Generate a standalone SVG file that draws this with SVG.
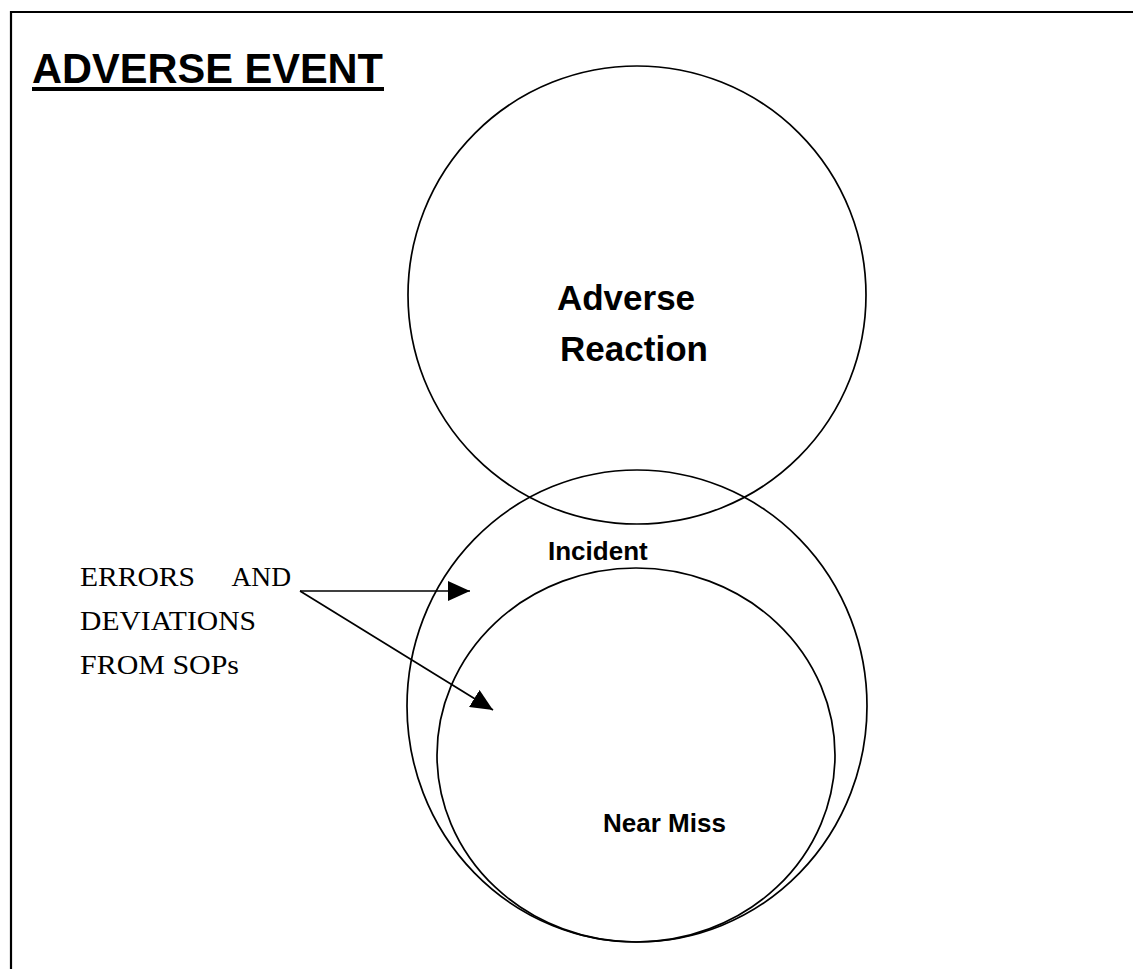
<svg xmlns="http://www.w3.org/2000/svg" width="1133" height="969" viewBox="0 0 1133 969">
<style>
.ln{fill:none;stroke:#000;stroke-width:1.7}
.sans{font-family:"Liberation Sans",Arial,sans-serif;font-weight:bold;fill:#000}
.serif{font-family:"Liberation Serif","Times New Roman",serif;font-size:27.5px;fill:#000}
</style>
<defs>
<marker id="ah" markerUnits="userSpaceOnUse" markerWidth="23" markerHeight="20" refX="22" refY="10" orient="auto">
<path d="M0,0 L22,10 L0,20 z" fill="#000"/>
</marker>
</defs>
<rect width="1133" height="969" fill="#fff"/>
<g id="frame">
<polyline points="11,969 11,12 1133,12" fill="none" stroke="#000" stroke-width="2.2"/>
</g>
<g id="title">
<text class="sans" x="32" y="83" font-size="42" textLength="351" lengthAdjust="spacingAndGlyphs">ADVERSE EVENT</text>
<rect x="32" y="87" width="352" height="4" fill="#000"/>
</g>
<g id="adverse-reaction">
<circle class="ln" cx="637" cy="295" r="229"/>
<text class="sans" font-size="35" x="626" y="310" text-anchor="middle">Adverse</text>
<text class="sans" font-size="35" x="634" y="361" text-anchor="middle">Reaction</text>
</g>
<g id="incident">
<ellipse class="ln" cx="637" cy="706" rx="230" ry="236"/>
<text class="sans" font-size="26" x="548" y="560">Incident</text>
</g>
<g id="near-miss">
<ellipse class="ln" cx="636" cy="755" rx="199" ry="187"/>
<text class="sans" font-size="26" x="603" y="832">Near Miss</text>
</g>
<g id="errors-label">
<text class="serif" x="80" y="586" textLength="115" lengthAdjust="spacingAndGlyphs">ERRORS</text>
<text class="serif" x="291" y="586" text-anchor="end">AND</text>
<text class="serif" x="80" y="630" textLength="176" lengthAdjust="spacingAndGlyphs">DEVIATIONS</text>
<text class="serif" x="80" y="674" textLength="159" lengthAdjust="spacingAndGlyphs">FROM SOPs</text>
</g>
<g id="connectors">
<line class="ln" x1="300" y1="591" x2="470" y2="591" marker-end="url(#ah)"/>
<line class="ln" x1="300" y1="591" x2="493" y2="710" marker-end="url(#ah)"/>
</g>
</svg>
